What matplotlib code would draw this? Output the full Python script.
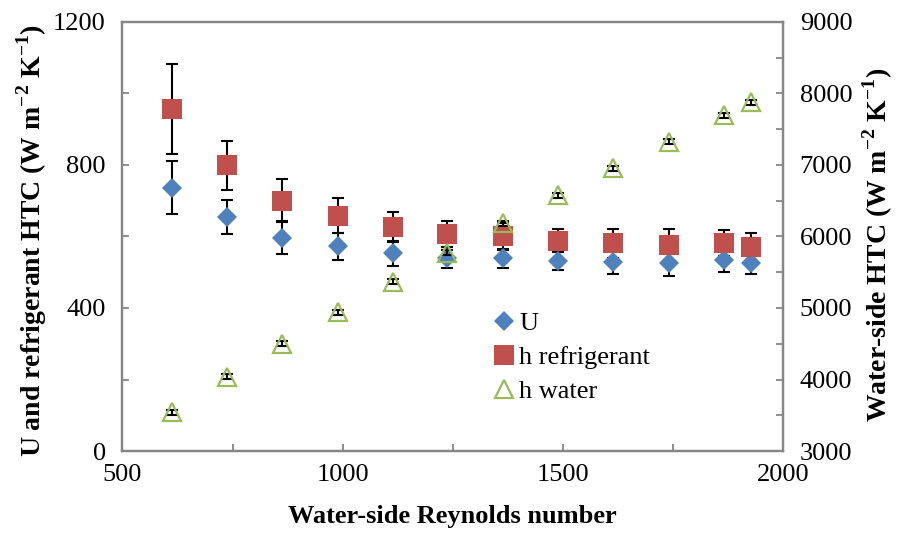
import numpy as np
import matplotlib
matplotlib.use('Agg')
import matplotlib.pyplot as plt
from matplotlib.ticker import MultipleLocator

plt.rcParams['font.family'] = ['Liberation Serif', 'DejaVu Serif']
plt.rcParams['mathtext.fontset'] = 'custom'
plt.rcParams['mathtext.rm'] = 'Liberation Serif'
plt.rcParams['mathtext.bf'] = 'Liberation Serif:bold'

# data
reynolds = [612, 737, 863, 989, 1114, 1238, 1364, 1489, 1614, 1740, 1865, 1928]
u_val = [737, 655, 597, 573, 553, 541, 539, 532, 528, 525, 533, 525]
u_err = [75, 47, 45, 38, 35, 30, 27, 27, 34, 35, 31, 30]
h_ref = [957, 799, 700, 658, 627, 607, 601, 588, 581, 576, 581, 571]
h_ref_err = [125, 69, 60, 49, 42, 36, 38, 32, 40, 44, 36, 38]
h_water = [3541, 4039, 4497, 4944, 5368, 5773, 6185, 6576, 6954, 7326, 7699, 7877]
h_water_err = [35, 35, 35, 35, 35, 35, 35, 35, 35, 35, 35, 35]

blue = '#4F81BD'
red = '#C0504D'
green = '#9BBB59'
grey = '#868686'

fig = plt.figure(figsize=(8.98, 5.35), dpi=100)
ax = fig.add_axes([0.1364, 0.157, 0.7356, 0.8019])
ax2 = ax.twinx()

eb = dict(fmt='none', ecolor='black', elinewidth=1.5, capsize=4, capthick=1.5)
ax.errorbar(reynolds, u_val, yerr=u_err, **eb)
ax.errorbar(reynolds, h_ref, yerr=h_ref_err, **eb)
l1, = ax.plot(reynolds, u_val, 'D', color=blue, markersize=10, markeredgewidth=0, label='U')
l2, = ax.plot(reynolds, h_ref, 's', color=red, markersize=14.5, markeredgewidth=0, label='h refrigerant')
ax2.errorbar(reynolds, h_water, yerr=h_water_err, **eb)
l3, = ax2.plot(reynolds, h_water, '^', markerfacecolor='none', markeredgecolor=green,
               markersize=13.5, markeredgewidth=1.6, label='h water')

ax.set_xlim(500, 2000)
ax.set_ylim(0, 1200)
ax2.set_ylim(3000, 9000)
ax.xaxis.set_major_locator(MultipleLocator(500))
ax.xaxis.set_minor_locator(MultipleLocator(250))
ax.yaxis.set_major_locator(MultipleLocator(400))
ax.yaxis.set_minor_locator(MultipleLocator(200))
ax2.yaxis.set_major_locator(MultipleLocator(1000))
ax2.yaxis.set_minor_locator(MultipleLocator(500))

for a in (ax, ax2):
    for s in a.spines.values():
        s.set_color(grey)
        s.set_linewidth(1.6)
    a.tick_params(which='both', direction='in', color=grey, width=1.3, length=5,
                  labelsize=19, labelcolor='black')
ax.tick_params(axis='y', which='both', right=False, pad=12)
ax.tick_params(axis='x', which='both', top=False, pad=9)
ax2.tick_params(axis='y', which='both', pad=12)

ax.set_xlabel('Water-side Reynolds number', fontsize=19, fontweight='bold', labelpad=14)
ax.set_ylabel(r'U and refrigerant HTC (W m$^{\mathbf{-2}}$ K$^{\mathbf{-1}}$)',
              fontsize=20, fontweight='bold', labelpad=3)
ax2.set_ylabel(r'Water-side HTC (W m$^{\mathbf{-2}}$ K$^{\mathbf{-1}}$)',
               fontsize=20, fontweight='bold', labelpad=6)
ax.yaxis.label.set_y(0.49)
ax2.yaxis.label.set_y(0.48)

ax2.legend(handles=[l1, l2, l3], loc='center left', bbox_to_anchor=(0.561, 0.219),
           frameon=False, fontsize=19, borderpad=0, borderaxespad=0, handlelength=0.8,
           handletextpad=0.2, labelspacing=0.4, numpoints=1)

fig.savefig('out.png', dpi=100)
